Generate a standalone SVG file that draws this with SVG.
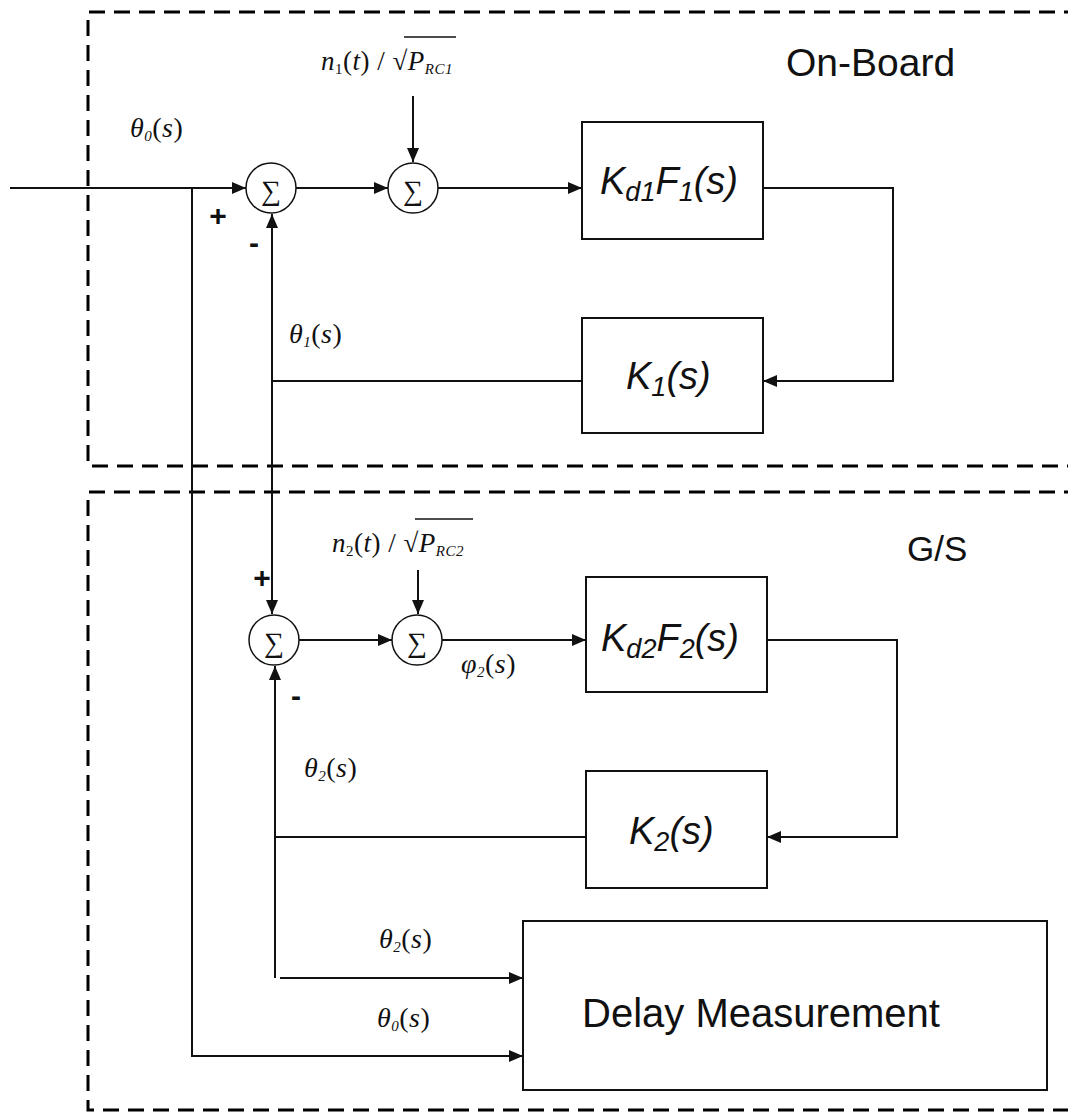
<svg xmlns="http://www.w3.org/2000/svg" width="1068" height="1112" viewBox="0 0 1068 1112">
  <style>
    .zone { fill: none; stroke: #000; stroke-width: 3; stroke-dasharray: 16 9; }
    .wire { fill: none; stroke: #111; stroke-width: 2; }
    .box { fill: #fff; stroke: #111; stroke-width: 2; }
    .sum { fill: #fff; stroke: #111; stroke-width: 1.5; }
    .sigma { font-family: "Liberation Serif", "DejaVu Serif", serif; font-size: 28px; text-anchor: middle; fill: #111; }
    .blk { font-family: "Liberation Sans", Arial, sans-serif; font-style: italic; font-size: 38px; fill: #111; }
    .blk .s { font-size: 27px; }
    .title { font-family: "Liberation Sans", Arial, sans-serif; font-size: 39px; fill: #111; }
    .math { font-family: "Liberation Serif", "DejaVu Serif", serif; font-style: italic; font-size: 28px; fill: #111; letter-spacing: 0.5px; }
    .math .up { font-style: normal; }
    .math .i { font-size: 15px; }
    .sign { font-family: "Liberation Sans", Arial, sans-serif; font-weight: bold; font-size: 30px; fill: #111; text-anchor: middle; }
  </style>
  <defs>
    <marker id="ah" markerWidth="14" markerHeight="12" refX="14" refY="6" orient="auto" markerUnits="userSpaceOnUse">
      <path d="M0,0 L14,6 L0,12 z" fill="#111"/>
    </marker>
  </defs>

  <rect width="1068" height="1112" fill="#fff"/>

  <!-- dashed zone borders -->
  <g id="zones">
    <path class="zone" d="M1080,12 H88 V466 H1080"/>
    <path class="zone" d="M1080,492 H88 V1110 H1080"/>
    <text class="title" x="786" y="76">On-Board</text>
    <text class="title" x="907" y="561" style="font-size:35px">G/S</text>
  </g>

  <!-- connectors -->
  <g id="connectors">
    <!-- input to first summing junction -->
    <path class="wire" d="M10,188 H246" marker-end="url(#ah)"/>
    <!-- theta0 branch down to delay measurement -->
    <path class="wire" d="M192,188 V1056 H523" marker-end="url(#ah)"/>
    <path class="wire" d="M296,188 H388" marker-end="url(#ah)"/>
    <path class="wire" d="M438,188 H582" marker-end="url(#ah)"/>
    <path class="wire" d="M413,96 V162" marker-end="url(#ah)"/>
    <path class="wire" d="M763,188 H893 V381 H763" marker-end="url(#ah)"/>
    <!-- theta1 feedback: up into sum 1, down into sum 3 -->
    <path class="wire" d="M582,381 H272"/>
    <path class="wire" d="M272,381 V214" marker-end="url(#ah)"/>
    <path class="wire" d="M272,381 V614" marker-end="url(#ah)"/>
    <!-- ground-station loop -->
    <path class="wire" d="M299,640 H392" marker-end="url(#ah)"/>
    <path class="wire" d="M442,640 H586" marker-end="url(#ah)"/>
    <path class="wire" d="M418,570 V614" marker-end="url(#ah)"/>
    <path class="wire" d="M767,640 H897 V837 H767" marker-end="url(#ah)"/>
    <path class="wire" d="M586,837 H275"/>
    <path class="wire" d="M275,978 V666" marker-end="url(#ah)"/>
    <path class="wire" d="M280,978 H523" marker-end="url(#ah)"/>
  </g>

  <!-- summing junctions -->
  <g id="sum1">
    <circle class="sum" cx="271" cy="188" r="25"/>
    <text class="sigma" x="271" y="200">∑</text>
  </g>
  <g id="sum2">
    <circle class="sum" cx="413" cy="188" r="25"/>
    <text class="sigma" x="413" y="200">∑</text>
  </g>
  <g id="sum3">
    <circle class="sum" cx="274" cy="640" r="25"/>
    <text class="sigma" x="274" y="652">∑</text>
  </g>
  <g id="sum4">
    <circle class="sum" cx="417" cy="640" r="25"/>
    <text class="sigma" x="417" y="652">∑</text>
  </g>

  <!-- transfer blocks -->
  <g id="kd1f1">
    <rect class="box" x="582" y="122" width="181" height="117"/>
    <text class="blk" x="600" y="194">K<tspan class="s" dy="7">d1</tspan><tspan dy="-7">F</tspan><tspan class="s" dy="7">1</tspan><tspan dy="-7">(s)</tspan></text>
  </g>
  <g id="k1">
    <rect class="box" x="582" y="318" width="181" height="115"/>
    <text class="blk" x="626" y="389">K<tspan class="s" dy="7">1</tspan><tspan dy="-7">(s)</tspan></text>
  </g>
  <g id="kd2f2">
    <rect class="box" x="586" y="577" width="181" height="115"/>
    <text class="blk" x="601" y="651">K<tspan class="s" dy="7">d2</tspan><tspan dy="-7">F</tspan><tspan class="s" dy="7">2</tspan><tspan dy="-7">(s)</tspan></text>
  </g>
  <g id="k2">
    <rect class="box" x="586" y="771" width="181" height="117"/>
    <text class="blk" x="629" y="844">K<tspan class="s" dy="7">2</tspan><tspan dy="-7">(s)</tspan></text>
  </g>
  <g id="delay">
    <rect class="box" x="523" y="921" width="524" height="169"/>
    <text class="title" x="582" y="1027" style="font-size:40px">Delay Measurement</text>
  </g>

  <!-- signal labels -->
  <g id="labels">
    <text class="math" x="130" y="137">θ<tspan class="i" dy="4">0</tspan><tspan class="up" dy="-4">(</tspan>s<tspan class="up">)</tspan></text>
    <text class="math" x="289" y="343">θ<tspan class="i" dy="4">1</tspan><tspan class="up" dy="-4">(</tspan>s<tspan class="up">)</tspan></text>
    <text class="math" x="304" y="777">θ<tspan class="i" dy="4">2</tspan><tspan class="up" dy="-4">(</tspan>s<tspan class="up">)</tspan></text>
    <text class="math" x="379" y="948">θ<tspan class="i" dy="4">2</tspan><tspan class="up" dy="-4">(</tspan>s<tspan class="up">)</tspan></text>
    <text class="math" x="377" y="1027">θ<tspan class="i" dy="4">0</tspan><tspan class="up" dy="-4">(</tspan>s<tspan class="up">)</tspan></text>
    <text class="math" x="461" y="673">φ<tspan class="i" dy="4">2</tspan><tspan class="up" dy="-4">(</tspan>s<tspan class="up">)</tspan></text>

    <text class="math" x="321" y="70" style="font-size:27px">n<tspan class="i up" dy="4">1</tspan><tspan class="up" dy="-4">(</tspan>t<tspan class="up">) / √</tspan>P<tspan class="i" dy="4">RC1</tspan></text>
    <line x1="404" y1="37" x2="456" y2="37" stroke="#111" stroke-width="1.5"/>
    <text class="math" x="332" y="552" style="font-size:27px">n<tspan class="i up" dy="4">2</tspan><tspan class="up" dy="-4">(</tspan>t<tspan class="up">) / √</tspan>P<tspan class="i" dy="4">RC2</tspan></text>
    <line x1="415" y1="519" x2="473" y2="519" stroke="#111" stroke-width="1.5"/>

    <text class="sign" x="218" y="226">+</text>
    <text class="sign" x="254" y="253">-</text>
    <text class="sign" x="262" y="588">+</text>
    <text class="sign" x="296" y="706">-</text>
  </g>
</svg>
